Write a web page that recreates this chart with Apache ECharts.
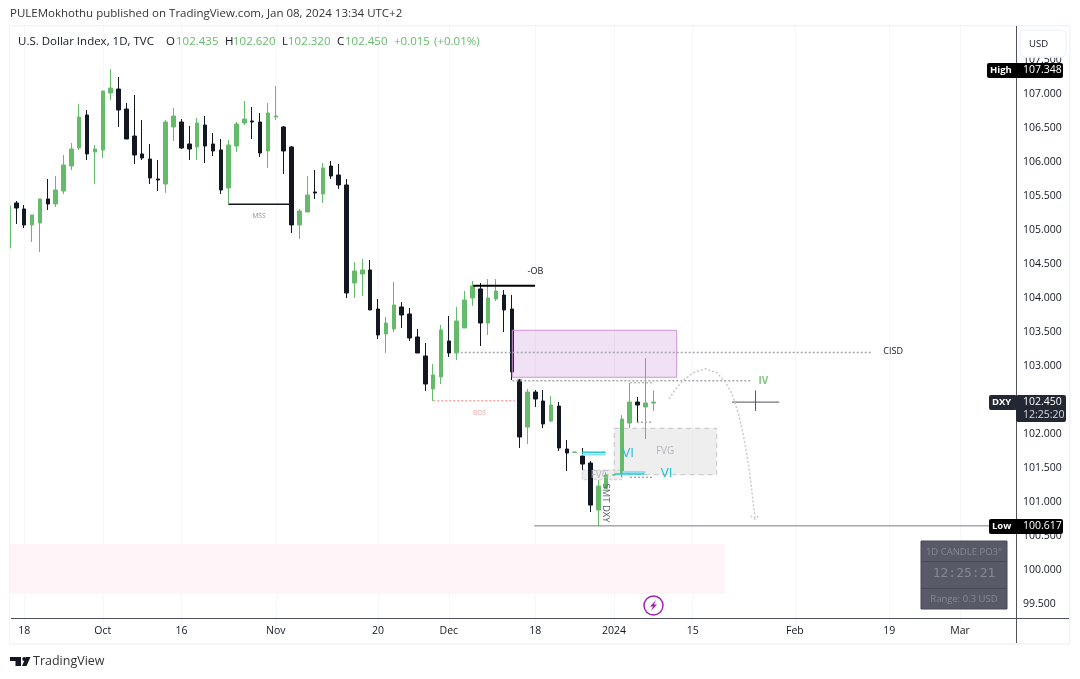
<!DOCTYPE html>
<html>
<head>
<meta charset="utf-8">
<title>DXY 1D</title>
<script src="https://cdn.jsdelivr.net/npm/echarts@6/dist/echarts.min.js"></script>
<style>
  html, body { margin: 0; padding: 0; background: #fff; }
  #chart { width: 1080px; height: 679px; }
</style>
</head>
<body>
<div id="chart"></div>
<script>
// daily candles
const opens = [104.716,105.378,105.290,105.055,105.084,105.437,105.363,105.554,105.922,106.187,
  106.672,106.128,106.157,106.996,107.054,106.760,106.363,106.099,106.025,105.731,
  105.657,106.496,106.569,106.246,106.202,106.525,106.246,106.158,105.599,106.216,
  106.555,106.584,106.569,106.143,106.643,106.496,106.202,105.055,105.246,105.540,
  105.510,105.922,105.790,105.643,104.202,104.334,104.393,103.819,103.452,103.525,
  103.849,103.746,103.408,103.128,102.643,102.819,103.349,103.172,103.540,103.981,
  104.114,103.613,103.966,104.025,103.819,102.775,102.083,102.598,102.466,102.172,
  102.392,101.760,101.712,101.657,101.554,100.863,101.180,101.378,101.407,102.142,
  102.451,102.378,102.435];
const closes = [105.334,105.304,105.055,105.202,105.437,105.363,105.569,105.937,106.172,106.643,
  106.099,106.172,107.025,107.069,106.746,106.319,106.084,106.040,105.746,105.716,
  106.569,106.657,106.187,106.172,106.555,106.216,106.143,105.569,106.231,106.540,
  106.613,106.569,106.113,106.702,106.658,106.143,105.055,105.260,105.496,105.525,
  105.893,105.775,105.643,104.055,104.378,104.393,103.805,103.437,103.613,103.878,
  103.731,103.393,103.172,102.716,102.849,103.511,103.172,103.643,103.952,104.158,
  103.613,103.981,104.084,103.805,102.893,101.937,102.598,102.495,102.128,102.407,
  101.775,101.701,101.716,101.539,100.936,101.216,101.378,101.382,102.201,102.451,
  102.407,102.436,102.450];
const lows = [104.700,105.069,105.010,104.804,104.657,105.275,105.319,105.510,105.863,106.157,
  106.010,105.657,106.040,106.893,106.496,106.319,105.952,106.010,105.657,105.554,
  105.525,106.290,106.172,106.010,106.010,105.966,106.069,105.510,105.349,106.128,
  106.525,106.319,106.055,105.893,106.599,105.805,104.937,104.849,105.246,105.437,
  105.378,105.731,105.584,103.981,103.981,104.011,103.805,103.378,103.172,103.481,
  103.540,103.349,103.172,102.613,102.466,102.716,103.114,103.069,103.540,103.864,
  103.275,103.437,103.937,103.481,102.775,101.775,101.833,102.378,102.069,102.157,
  101.731,101.436,101.712,101.451,100.834,100.630,101.180,101.378,101.348,102.069,
  102.142,101.907,102.320];
const highs = [105.380,105.407,105.349,105.202,105.437,105.731,105.775,106.084,106.260,106.834,
  106.746,106.231,107.025,107.348,107.231,106.849,106.966,106.599,106.246,106.010,
  106.599,106.775,106.613,106.510,106.628,106.658,106.407,106.319,106.305,106.569,
  106.878,106.790,106.702,106.849,107.099,106.510,106.216,105.290,105.775,105.863,
  105.966,105.996,105.952,105.731,104.510,104.555,104.540,103.966,103.702,104.216,
  103.922,103.834,103.525,103.319,103.011,103.584,103.716,103.849,104.084,104.231,
  104.202,104.260,104.260,104.099,104.025,102.790,102.642,102.628,102.628,102.539,
  102.451,101.892,101.716,101.775,101.583,101.304,101.418,101.382,102.260,102.730,
  102.525,103.098,102.620];

// time axis: bar slots including the empty future, labels by slot
const barSlots = 129;
const tickSlots = [2, 12, 22, 34, 47, 56, 67, 77, 87, 100, 112, 121];
const tickTexts = ['18', 'Oct', '16', 'Nov', '20', 'Dec', '18', '2024', '15', 'Feb', '19', 'Mar'];
const categories = [];
for (let i = 0; i < barSlots; i++) {
  const t = tickSlots.indexOf(i);
  categories.push(t >= 0 ? tickTexts[t] : '');
}

// drawings: [slot from, slot to, price top, price bottom]
const pinkZone = [-0.5, 91.12, 100.363, 99.628];
const fvgZone = [77.04, 90.06, 102.065, 101.382];
const fvgSmall = [72.97, 78.06, 101.451, 101.309];
const obZone = [64.07, 84.97, 103.506, 102.815];

// drawings: [[slot, price], ...]
const mssLine = [[28.0, 105.359], [35.7, 105.359]];
const obLine = [[59.1, 104.162], [66.96, 104.162]];
const cisdLine = [[57.0, 103.179], [109.8, 103.179]];
const ivLine = [[64.07, 102.765], [94.55, 102.765]];
const bosLine = [[54.02, 102.47], [64.4, 102.47]];
const dashA = [[79.04, 102.735], [81.84, 102.735]];
const dashB = [[79.93, 102.153], [81.96, 102.153]];
const dashC = [[79.04, 101.344], [81.84, 101.344]];
const viLine1 = [[72.9, 101.712], [75.95, 101.712]];
const viBand1 = [[72.9, 101.68], [75.95, 101.68]];
const viLine2 = [[77.1, 101.393], [80.9, 101.393]];
const viBand2 = [[78.06, 101.422], [81.0, 101.422]];
const lowLine = [[66.87, 100.63], [125, 100.63]];
const crossH = [[92, 102.45], [98, 102.45]];
const crossV = [[95, 102.62], [95, 102.32]];
const arcPath = [[84.0, 102.496], [84.76, 102.628], [85.82, 102.775], [87.09, 102.882], [88.58, 102.941],
  [90.06, 102.882], [91.12, 102.75], [91.97, 102.579], [92.81, 102.285], [93.45, 101.966],
  [94.08, 101.55], [94.52, 101.157], [94.93, 100.727]];
const arcHead = [[94.39, 100.779], [94.93, 100.727], [95.48, 100.79]];

// chart notes
const noteTexts = ['MSS', '-OB', 'CISD', 'IV', 'BOS', 'FVG', 'FVG', 'VI', 'VI', 'SMT DXY'];
const noteSlots = [31.86, 67.0, 112.5, 96.0, 59.9, 83.5, 75.2, 78.8, 83.7, 75.99];
const notePrices = [105.187, 104.378, 103.2, 102.76, 102.282, 101.726, 101.378, 101.697, 101.412, 100.966];
const noteStyles = [
  { fill: '#8a8d96', size: 6.5 }, { fill: '#131722', size: 9 }, { fill: '#131722', size: 9 },
  { fill: '#81c784', size: 10, weight: 'bold' }, { fill: '#f5a3a3', size: 6.5 },
  { fill: '#b4b6bb', size: 10 }, { fill: '#b4b6bb', size: 10 },
  { fill: '#26bcd7', size: 13.5 }, { fill: '#26bcd7', size: 13.5 },
  { fill: '#555863', size: 9.5, rotate: -Math.PI / 2 }
];

const FONT = '"Open Sans", sans-serif';
const UP = '#66bb6a', DOWN = '#131722', INK = '#131722';

function zoneSeries(data, fill, stroke, dash, z) {
  return {
    type: 'custom', xAxisIndex: 1, yAxisIndex: 0, z: z, silent: true, data: [data],
    encode: { x: [0, 1], y: [2, 3] },
    renderItem: function (params, api) {
      const a = api.coord([api.value(0), api.value(2)]);
      const b = api.coord([api.value(1), api.value(3)]);
      return {
        type: 'rect',
        shape: { x: a[0], y: a[1], width: b[0] - a[0], height: b[1] - a[1] },
        style: { fill: fill, stroke: stroke, lineWidth: stroke ? 1 : 0, lineDash: dash || null }
      };
    }
  };
}

function lineSeries(data, color, width, type, z) {
  return {
    type: 'line', xAxisIndex: 1, yAxisIndex: 0, data: data, symbol: 'none', silent: true, z: z || 4,
    animation: false, lineStyle: { color: color, width: width, type: type || 'solid' }
  };
}

const notesSeries = {
  type: 'custom', xAxisIndex: 1, yAxisIndex: 0, z: 6, silent: true,
  data: noteTexts.map((t, i) => [noteSlots[i], notePrices[i], i]),
  encode: { x: 0, y: 1 },
  renderItem: function (params, api) {
    const p = api.coord([api.value(0), api.value(1)]);
    const i = api.value(2), s = noteStyles[i];
    return {
      type: 'text', x: p[0], y: p[1], rotation: s.rotate || 0,
      style: {
        text: noteTexts[i], fill: s.fill, align: 'center', verticalAlign: 'middle',
        font: (s.weight || 'normal') + ' ' + s.size + 'px ' + FONT
      }
    };
  }
};

// page furniture (frame, header, price tags, table, footer) in pixels
function box(x, y, w, h, fill, extra) {
  return Object.assign({ type: 'rect', shape: { x: x, y: y, width: w, height: h }, style: { fill: fill }, z: 60, silent: true }, extra || {});
}
function label(x, y, text, color, size, extra) {
  const o = { type: 'text', x: x, y: y, z: 70, silent: true,
    style: { text: text, fill: color, font: (size || 11) + 'px ' + FONT, verticalAlign: 'middle', align: 'left' } };
  if (extra) Object.assign(o.style, extra);
  return o;
}

const headerParts = [
  [18, 'U.S. Dollar Index, 1D, TVC', INK], [166, 'O', INK], [176, '102.435', UP], [225, 'H', INK], [233, '102.620', UP],
  [282, 'L', INK], [288, '102.320', UP], [337, 'C', INK], [345, '102.450', UP], [394, '+0.015', UP], [434, '(+0.01%)', UP]
];

const furniture = [
  box(0, 0, 10, 679, '#ffffff', { z: 50 }),
  box(9, 25, 1061, 1.5, '#f0f3fa'), box(9, 25, 1, 620, '#f0f3fa'),
  box(1069, 25, 1.5, 620, '#f0f3fa'), box(9, 643, 1061, 1.5, '#f0f3fa'),
  box(1016, 26, 1, 617, '#50535e'), box(11, 618, 1058, 1, '#50535e'),
  label(10, 14, 'PULEMokhothu published on TradingView.com, Jan 08, 2024 13:34 UTC+2', '#333', 11.5),

  { type: 'rect', z: 62, silent: true, shape: { x: 1020, y: 30, width: 46, height: 27, r: 5 }, style: { fill: '#fff', stroke: '#f0f3fa', lineWidth: 1.5 } },
  label(1029, 44, 'USD', INK, 9.5),

  { type: 'rect', z: 62, silent: true, shape: { x: 987, y: 63, width: 76, height: 15, r: 2 }, style: { fill: '#000' } },
  label(990, 70.5, 'High', '#fff', 9.5, { font: 'bold 9.5px ' + FONT }),
  label(1023, 70.5, '107.348', '#fff', 10.5),

  { type: 'rect', z: 62, silent: true, shape: { x: 989, y: 395, width: 28, height: 15, r: 2 }, style: { fill: '#232734' } },
  { type: 'rect', z: 62, silent: true, shape: { x: 1016, y: 395, width: 50, height: 27, r: 2 }, style: { fill: '#232734' } },
  label(992, 402.5, 'DXY', '#fff', 9.5, { font: 'bold 9.5px ' + FONT }),
  label(1023, 402.5, '102.450', '#fff', 10.5),
  label(1023, 415, '12:25:20', '#d8dbe2', 10.5),

  { type: 'rect', z: 62, silent: true, shape: { x: 989, y: 519, width: 74, height: 15, r: 2 }, style: { fill: '#000' } },
  label(992, 526.5, 'Low', '#fff', 9.5, { font: 'bold 9.5px ' + FONT }),
  label(1023, 526.5, '100.617', '#fff', 10.5),

  box(921, 541, 86, 68, '#585a68', { style: { fill: '#585a68', stroke: '#474955', lineWidth: 1 } }),
  box(921, 561, 86, 1, '#474955', { z: 61 }), box(921, 588, 86, 1, '#474955', { z: 61 }),
  label(964, 552, '1D CANDLE PO3°', '#868894', 9.5, { align: 'center' }),
  label(964, 574, '12:25:21', '#868894', 13, { align: 'center', font: '13px "DejaVu Sans Mono", monospace' }),
  label(964, 599, 'Range: 0.3 USD', '#868894', 9.5, { align: 'center' }),

  { type: 'circle', z: 62, silent: true, shape: { cx: 653.5, cy: 605.5, r: 9.5 }, style: { fill: '#fff', stroke: '#9c27b0', lineWidth: 1.5 } },
  { type: 'polygon', z: 63, silent: true, shape: { points: [[656, 600], [650, 606.5], [653, 606.5], [651, 611], [657, 604.5], [654, 604.5]] }, style: { fill: '#9c27b0' } },

  { type: 'polygon', z: 62, silent: true, shape: { points: [[10, 657], [21, 657], [21, 666], [15.5, 666], [15.5, 661], [10, 661]] }, style: { fill: INK } },
  { type: 'circle', z: 62, silent: true, shape: { cx: 24.2, cy: 659, r: 2 }, style: { fill: INK } },
  { type: 'polygon', z: 62, silent: true, shape: { points: [[26, 657], [30.5, 657], [26.5, 666], [22, 666]] }, style: { fill: INK } },
  label(33, 661.5, 'TradingView', '#333', 12.5)
].concat(headerParts.map(p => label(p[0], 42, p[1], p[2], 11.5)));

const chart = echarts.init(document.getElementById('chart'), null, { renderer: 'canvas' });
chart.setOption({
  animation: false,
  backgroundColor: '#ffffff',
  textStyle: { fontFamily: FONT },
  grid: { left: 4.51, width: 1014.5, top: 24.7, height: 612, containLabel: false },
  xAxis: [
    {
      type: 'category', data: categories, offset: -18.7,
      axisLine: { show: false }, axisTick: { show: false },
      axisLabel: { interval: 0, color: INK, fontSize: 10.5, margin: 8, hideOverlap: false },
      splitLine: {
        show: true, alignWithLabel: true,
        interval: i => tickSlots.indexOf(i) >= 0,
        lineStyle: { color: '#f6f7fb', width: 1 }
      }
    },
    { type: 'value', min: -0.5, max: barSlots - 0.5, show: false, splitLine: { show: false } }
  ],
  yAxis: [{
    type: 'value', position: 'right', min: 99, max: 108, interval: 0.5, scale: true,
    axisLine: { show: false }, axisTick: { show: false }, splitLine: { show: false },
    axisLabel: {
      color: INK, fontSize: 10.5, margin: 4, verticalAlign: 'top', lineHeight: 2,
      showMinLabel: false, showMaxLabel: false,
      // the DXY price tag sits over this tick in the reference
      formatter: v => (v === 102.5 ? '' : v.toFixed(3))
    }
  }],
  series: [
    zoneSeries(pinkZone, '#fff5f8', null, null, 1),
    zoneSeries(fvgZone, 'rgba(224,224,224,0.55)', '#c4c4c4', [5, 4], 1),
    zoneSeries(fvgSmall, 'rgba(224,224,224,0.55)', '#cfcfcf', [3, 2], 1),
    {
      type: 'candlestick', xAxisIndex: 0, yAxisIndex: 0, z: 2, barWidth: 4, silent: true,
      data: opens.map((o, i) => [o, closes[i], lows[i], highs[i]]),
      itemStyle: { color: UP, color0: DOWN, borderColor: UP, borderColor0: DOWN, borderWidth: 1 }
    },
    zoneSeries(obZone, 'rgba(186,104,200,0.2)', '#ce93d8', null, 3),
    lineSeries(mssLine, '#131722', 1.5),
    lineSeries(obLine, '#000000', 2),
    lineSeries(cisdLine, '#a6a8ad', 1.5, [2, 2]),
    lineSeries(ivLine, '#a6a8ad', 1.5, [2, 2]),
    lineSeries(bosLine, '#f8a5a5', 1.5, [2, 2]),
    lineSeries(dashA, '#bcbec2', 1.5, [2, 2]),
    lineSeries(dashB, '#a6a8ad', 1.5, [2, 2]),
    lineSeries(dashC, '#a6a8ad', 1.5, [2, 2]),
    lineSeries(viBand1, '#8fe0ec', 2),
    lineSeries(viLine1, '#26c6da', 1.5),
    lineSeries(viBand2, '#8fe0ec', 2),
    lineSeries(viLine2, '#26c6da', 1.5),
    lineSeries(lowLine, '#787b86', 1),
    lineSeries(crossH, '#50535e', 1),
    lineSeries(crossV, '#50535e', 1),
    lineSeries(arcPath, '#c8c9cc', 1.5, [2, 2]),
    lineSeries(arcHead, '#c8c9cc', 1.5, [2, 2]),
    notesSeries
  ],
  graphic: { elements: furniture }
});
</script>
</body>
</html>
